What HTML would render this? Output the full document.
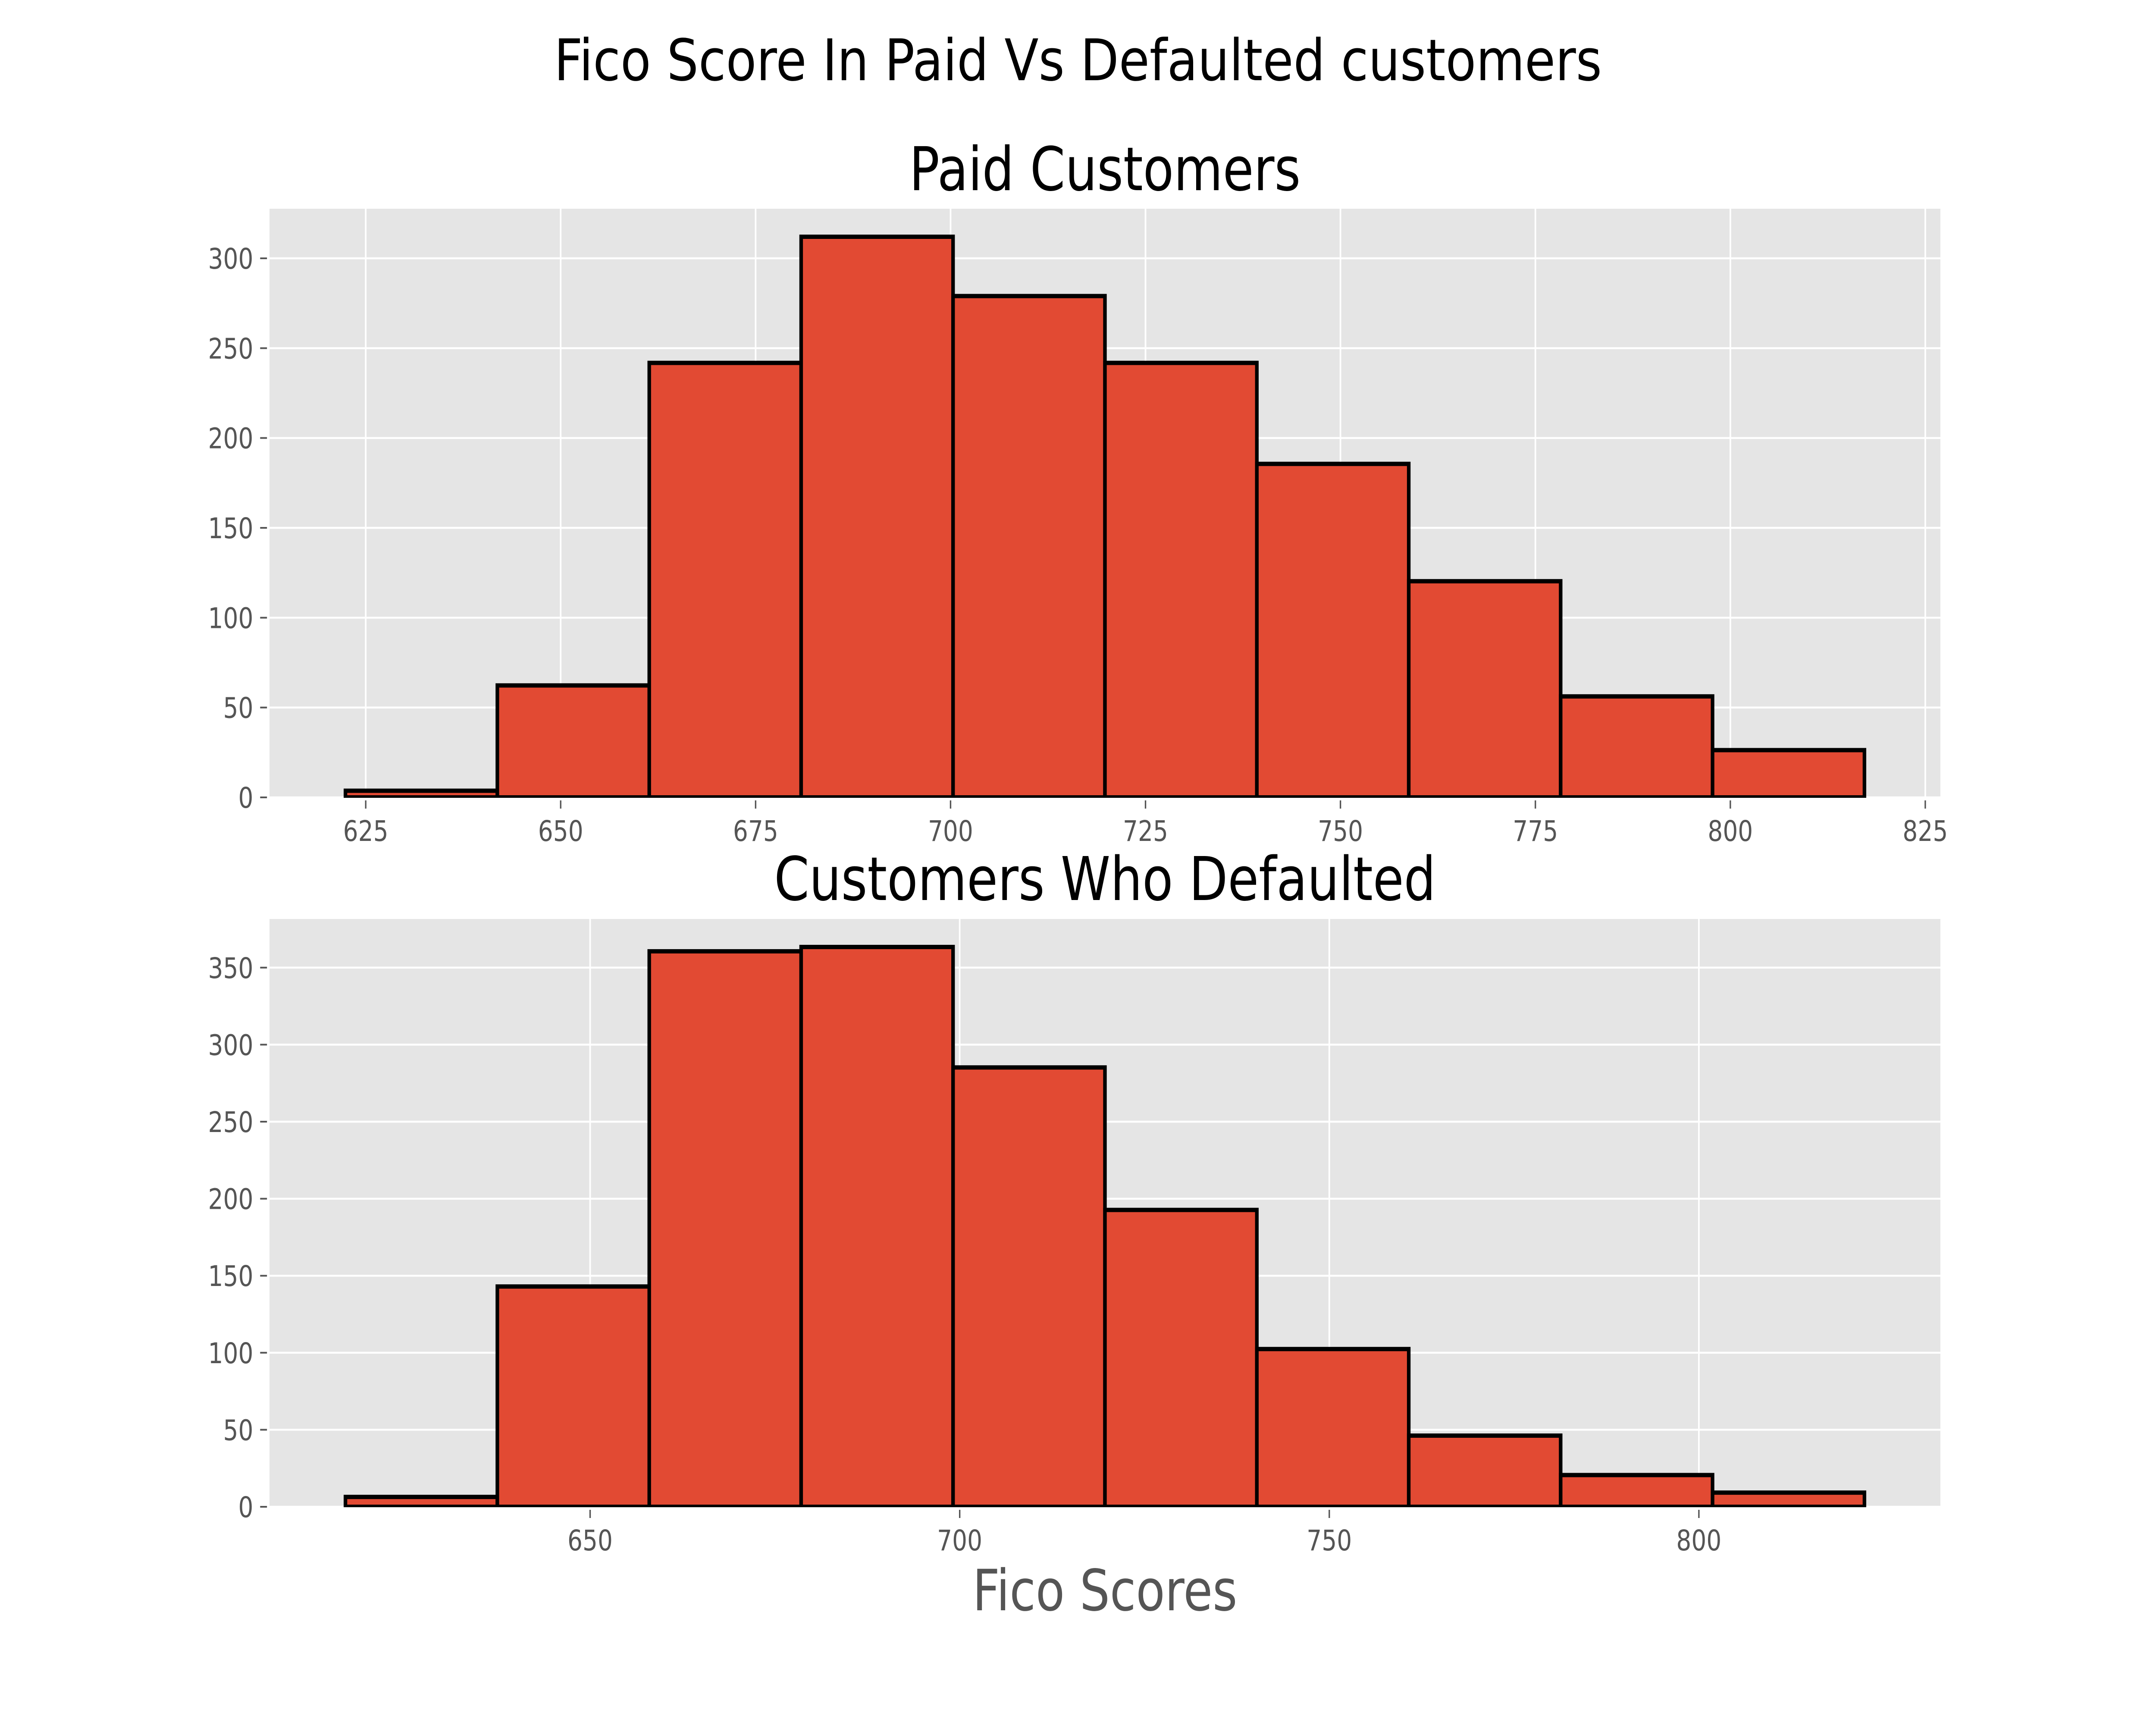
<!DOCTYPE html>
<html><head><meta charset="utf-8"><style>
html,body{margin:0;padding:0;background:#fff;width:100%;height:100%;overflow:hidden;}
svg{display:block;width:100vw;height:100vh;}
text{font-family:"DejaVu Sans","Liberation Sans",sans-serif;}
</style></head><body>
<svg id="fig" viewBox="0 0 6000 4000" preserveAspectRatio="none" xmlns="http://www.w3.org/2000/svg">
<rect width="6000" height="4000" fill="#fff"/>
<text x="3000" y="186" font-size="133" text-anchor="middle" fill="#000" textLength="2916" lengthAdjust="spacingAndGlyphs">Fico Score In Paid Vs Defaulted customers</text>
<g id="top"></g>
<g id="bottom"></g>
</svg>
<script>
// Paid customers histogram
const paidCounts = [3.7, 62.3, 241.8, 312, 279, 241.8, 185.6, 120.3, 56.2, 26.3];
const paidMin = 622.4, paidMax = 817.2;
const paidXTicks = [625, 650, 675, 700, 725, 750, 775, 800, 825];
const paidYTicks = [0, 50, 100, 150, 200, 250, 300];
// Defaulted customers histogram
const defCounts = [6.4, 143, 360.6, 363.4, 285.2, 192.7, 102.4, 46.2, 20.6, 9.2];
const defMin = 616.9, defMax = 822.4;
const defXTicks = [650, 700, 750, 800];
const defYTicks = [0, 50, 100, 150, 200, 250, 300, 350];

const NS = "http://www.w3.org/2000/svg";
function mk(tag, attrs, parent){const e=document.createElementNS(NS,tag);for(const k in attrs)e.setAttribute(k,attrs[k]);parent.appendChild(e);return e;}

function drawHist(g, counts, mn, mx, xt, yt, top, bottom, title, titleY, prefix){
  const L=750, R=5400;
  const pad=(mx-mn)*0.05, x0=mn-pad, x1=mx+pad;
  const ymax=Math.max(...counts)*1.05;
  const X=v=>L+(v-x0)/(x1-x0)*(R-L);
  const Y=v=>bottom-v/ymax*(bottom-top);
  const bg=mk('rect',{x:L,y:top,width:R-L,height:bottom-top,fill:'#E5E5E5'},g);
  
  
  xt.forEach(t=>{const px=X(t); if(px<L||px>R) return;
    const l=mk('line',{x1:px,x2:px,y1:top,y2:bottom,stroke:'#fff','stroke-width':4.5},g);
    
    
  });
  yt.forEach(t=>{const py=Y(t);
    const l=mk('line',{x1:L,x2:R,y1:py,y2:py,stroke:'#fff','stroke-width':4.5},g);
    
    
  });
  const n=counts.length, w=(mx-mn)/n;
  counts.forEach((c,i)=>{
    const a=X(mn+i*w), b=X(mn+(i+1)*w);
    const r=mk('rect',{x:a,y:Y(c),width:b-a,height:bottom-Y(c),fill:'#E24A33',stroke:'#000','stroke-width':10},g);
    
    
  });
  mk('rect',{x:L-60,y:bottom+1,width:R-L+120,height:12,fill:'#fff'},g);
  xt.forEach(t=>{const px=X(t);
    const tk=mk('line',{x1:px,x2:px,y1:bottom+7,y2:bottom+26,stroke:'#555','stroke-width':4},g);
    
    
    const tx=mk('text',{x:px,y:bottom+101,'font-size':66,'text-anchor':'middle',fill:'#555'},g);
    tx.textContent=t;
    
    
  });
  yt.forEach(t=>{const py=Y(t);
    const tk=mk('line',{x1:L-26,x2:L-7,y1:py,y2:py,stroke:'#555','stroke-width':4},g);
    
    
    const tx=mk('text',{x:L-45,y:py+24,'font-size':66,'text-anchor':'end',fill:'#555'},g);
    tx.textContent=t;
    
    
  });
  const tt=mk('text',{x:3075,y:titleY,'font-size':140,'text-anchor':'middle',fill:'#000'},g);
  tt.textContent=title;
  
  
}
const gt=document.getElementById('top');


drawHist(gt, paidCounts, paidMin, paidMax, paidXTicks, paidYTicks, 484, 1849, 'Paid Customers', 441, 'paid');
const gb=document.getElementById('bottom');


drawHist(gb, defCounts, defMin, defMax, defXTicks, defYTicks, 2131, 3494, 'Customers Who Defaulted', 2087, 'defaulted');
const xl=mk('text',{x:3075,y:3734,'font-size':132,'text-anchor':'middle',fill:'#555'},document.getElementById('fig'));
xl.textContent='Fico Scores';


</script>
</body></html>
